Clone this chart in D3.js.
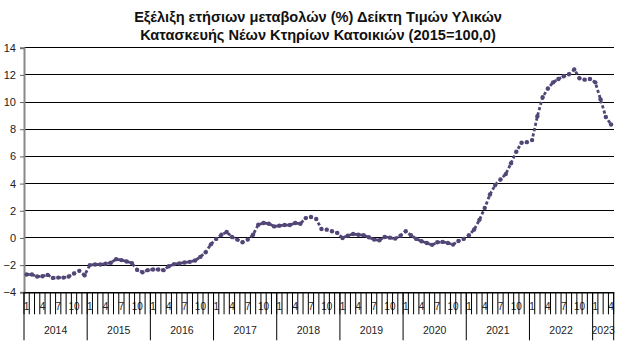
<!DOCTYPE html>
<html>
<head>
<meta charset="utf-8">
<script src="https://cdn.jsdelivr.net/npm/d3@7"></script>
<style>
  html, body { margin: 0; padding: 0; background: #fff; }
  svg { display: block; }
</style>
</head>
<body>
<svg id="chart" width="636" height="356"></svg>
<script>
const titleLines = [
  "Εξέλιξη ετήσιων μεταβολών (%) Δείκτη Τιμών Υλικών",
  "Κατασκευής Νέων Κτηρίων Κατοικιών (2015=100,0)"
];
const years = [2014, 2015, 2016, 2017, 2018, 2019, 2020, 2021, 2022, 2023];
const monthsPerYear = [12, 12, 12, 12, 12, 12, 12, 12, 12, 4];
const monthLabelsShown = [1, 4, 7, 10];
const yTicks = [-4, -2, 0, 2, 4, 6, 8, 10, 12, 14];
const values = [
  // 2014
  -2.69, -2.69, -2.84, -2.82, -2.72, -2.94, -2.92, -2.92, -2.84, -2.62, -2.42, -2.75,
  // 2015
  -2.00, -1.95, -1.95, -1.90, -1.82, -1.56, -1.63, -1.73, -1.85, -2.35, -2.52, -2.37,
  // 2016
  -2.32, -2.32, -2.37, -2.08, -1.93, -1.88, -1.81, -1.76, -1.66, -1.39, -1.05, -0.47,
  // 2017
  -0.07, 0.24, 0.44, 0.07, -0.12, -0.32, -0.12, 0.24, 0.97, 1.10, 1.05, 0.85,
  // 2018
  0.90, 0.95, 0.95, 1.10, 1.05, 1.46, 1.54, 1.39, 0.66, 0.61, 0.49, 0.37,
  // 2019
  0.00, 0.17, 0.29, 0.24, 0.20, 0.05, -0.12, -0.17, 0.07, 0.02, -0.05, 0.17,
  // 2020
  0.49, 0.20, -0.07, -0.24, -0.37, -0.51, -0.32, -0.29, -0.37, -0.49, -0.22, -0.07,
  // 2021
  0.20, 0.62, 1.33, 2.20, 3.20, 3.90, 4.30, 4.70, 5.50, 6.35, 7.00, 7.05,
  // 2022
  7.20, 8.95, 10.35, 11.00, 11.45, 11.70, 11.90, 12.05, 12.40, 11.75, 11.65, 11.70,
  // 2023
  11.45, 10.20, 8.90, 8.35
];

// Build category list from years/months
const cats = [];
years.forEach((yr, yi) => {
  for (let m = 1; m <= monthsPerYear[yi]; m++) cats.push({ year: yr, month: m, key: yr + "-" + m });
});
const data = cats.map((c, i) => ({ ...c, value: values[i] }));

const svg = d3.select("#chart");
const M = { left: 24, right: 613.7, top: 47.7, bottom: 292.3 };
const font = "'Liberation Sans', Arial, sans-serif";
const color = "#524677";

const x = d3.scaleBand().domain(cats.map(c => c.key)).range([M.left, M.right]).padding(0);
const y = d3.scaleLinear().domain([-4, 14]).range([M.bottom, M.top]);

// Title (font size fitted so the first line spans ~370px as in the reference)
const titleTexts = titleLines.map((t, i) => svg.append("text")
    .attr("x", 318).attr("y", 22 + i * 18)
    .attr("text-anchor", "middle")
    .attr("font-family", font)
    .attr("font-weight", "bold")
    .attr("font-size", 12.5)
    .attr("fill", "#111")
    .text(t));
const w0 = titleTexts[0].node().getComputedTextLength();
const fs = Math.min(15, 12.5 * 368 / w0);
titleTexts.forEach(t => t.attr("font-size", fs));

// Gridlines
svg.append("g").selectAll("line").data(yTicks.filter(d => d > -4)).join("line")
  .attr("x1", M.left).attr("x2", M.right)
  .attr("y1", d => y(d)).attr("y2", d => y(d))
  .attr("stroke", "#000").attr("stroke-width", 1).attr("shape-rendering", "crispEdges");

// Y axis
const yAxis = d3.axisLeft(y).tickValues(yTicks).tickSize(4).tickPadding(4).tickFormat(d3.format("d"));
const yg = svg.append("g").attr("transform", `translate(${M.left},0)`).call(yAxis);
yg.select(".domain").attr("stroke", "#888").attr("stroke-width", 2);
yg.selectAll(".tick line").attr("stroke", "#666");
yg.selectAll(".tick text").attr("font-family", font).attr("font-size", 11).attr("fill", "#222");

// X axis (month level)
const xAxis = d3.axisBottom(x).tickSize(0).tickFormat(k => {
  const m = +k.split("-")[1];
  return monthLabelsShown.includes(m) ? m : "";
});
const xg = svg.append("g").attr("transform", `translate(0,${M.bottom})`).call(xAxis);
xg.select(".domain").attr("stroke", "#000").attr("stroke-width", 1.5);
xg.selectAll(".tick text").attr("font-family", font).attr("font-size", 10).attr("fill", "#222").attr("dy", "1.45em");

// Month boundary ticks
const boundaries = cats.map(c => x(c.key)).concat([M.right]);
svg.append("g").selectAll("line").data(boundaries).join("line")
  .attr("x1", d => d).attr("x2", d => d)
  .attr("y1", M.bottom).attr("y2", M.bottom + 22)
  .attr("stroke", "#000").attr("stroke-width", 1);

// Year separators and labels
let idx = 0;
const yearSpans = years.map((yr, yi) => {
  const s = x(cats[idx].key);
  idx += monthsPerYear[yi];
  const e = idx < cats.length ? x(cats[idx].key) : M.right;
  return { yr, s, e };
});
const yearSep = yearSpans.map(d => d.s).concat([M.right]);
svg.append("g").selectAll("line").data(yearSep).join("line")
  .attr("x1", d => d).attr("x2", d => d)
  .attr("y1", M.bottom).attr("y2", M.bottom + 48)
  .attr("stroke", "#000").attr("stroke-width", 1);
svg.append("g").selectAll("text").data(yearSpans).join("text")
  .attr("x", d => (d.s + d.e) / 2).attr("y", M.bottom + 42)
  .attr("text-anchor", "middle")
  .attr("font-family", font).attr("font-size", 10.5).attr("fill", "#222")
  .text(d => d.yr);

// Series line
const line = d3.line().x(d => x(d.key) + x.bandwidth() / 2).y(d => y(d.value));
svg.append("path").datum(data)
  .attr("d", line)
  .attr("fill", "none").attr("stroke", color).attr("stroke-width", 2.8)
  .attr("stroke-dasharray", "3.2,2.2");
svg.append("g").selectAll("circle").data(data).join("circle")
  .attr("cx", d => x(d.key) + x.bandwidth() / 2)
  .attr("cy", d => y(d.value))
  .attr("r", 2.2)
  .attr("fill", color);
</script>
</body>
</html>
